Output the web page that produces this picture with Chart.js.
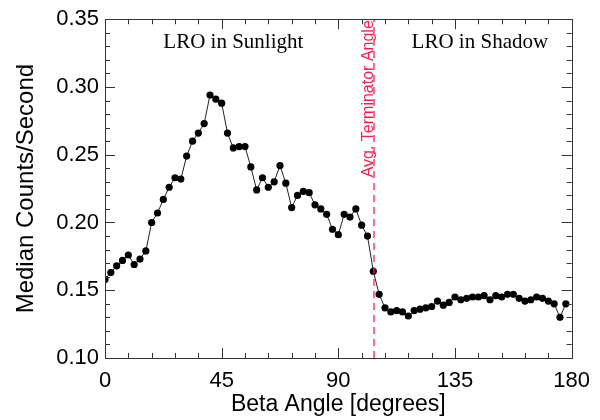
<!DOCTYPE html>
<html>
<head>
<meta charset="utf-8">
<script src="https://cdn.jsdelivr.net/npm/chart.js@4"></script>
<style>
  html, body { margin: 0; padding: 0; background: #fff; }
  #wrap { width: 600px; height: 420px; }
</style>
</head>
<body>
<div id="wrap"><canvas id="betaChart" width="600" height="420"></canvas></div>
<script>
// beta angle bins (degrees) and median count rate
const betaAngle = [
  0, 2.25, 4.5, 6.75, 9, 11.25, 13.5, 15.75, 18, 20.25,
  22.5, 24.75, 27, 29.25, 31.5, 33.75, 36, 38.25, 40.5, 42.75,
  45, 47.25, 49.5, 51.75, 54, 56.25, 58.5, 60.75, 63, 65.25,
  67.5, 69.75, 72, 74.25, 76.5, 78.75, 81, 83.25, 85.5, 87.75,
  90, 92.25, 94.5, 96.75, 99, 101.25, 103.5, 105.75, 108, 110.25,
  112.5, 114.75, 117, 119.25, 121.5, 123.75, 126, 128.25, 130.5, 132.75,
  135, 137.25, 139.5, 141.75, 144, 146.25, 148.5, 150.75, 153, 155.25,
  157.5, 159.75, 162, 164.25, 166.5, 168.75, 171, 173.25, 175.5, 177.75
];
const medianRate = [
  0.158, 0.163, 0.168, 0.172, 0.176, 0.169, 0.173, 0.179, 0.200, 0.207,
  0.217, 0.226, 0.233, 0.232, 0.249, 0.260, 0.266, 0.273, 0.294, 0.291,
  0.288, 0.266, 0.255, 0.256, 0.256, 0.241, 0.224, 0.233, 0.226, 0.230,
  0.242, 0.229, 0.211, 0.220, 0.223, 0.222, 0.213, 0.210, 0.206, 0.195,
  0.191, 0.206, 0.204, 0.210, 0.198, 0.190, 0.164, 0.147, 0.137, 0.134,
  0.135, 0.134, 0.131, 0.135, 0.136, 0.137, 0.138, 0.142, 0.139, 0.141,
  0.145, 0.143, 0.144, 0.145, 0.145, 0.146, 0.143, 0.146, 0.145, 0.147,
  0.147, 0.144, 0.142, 0.143, 0.145, 0.144, 0.142, 0.140, 0.130, 0.140
];

const xTicks = [0, 45, 90, 135, 180];
const yTicks = [0.10, 0.15, 0.20, 0.25, 0.30, 0.35];
const yTickLabels = ['0.10', '0.15', '0.20', '0.25', '0.30', '0.35'];

const terminatorAngle = 103.7;
const regionLabels = ['LRO in Sunlight', 'LRO in Shadow'];
const regionLabelAngle = [49.5, 144.6];
const regionLabelValue = 0.329;

const RED = '#ff1f4f';
const AXIS = '#333';

// IDL-style frame with inward ticks on all four sides + the annotations
const framePlugin = {
  id: 'frame',
  afterDatasetsDraw(chart) {
    const { ctx, chartArea: a, scales: { x, y } } = chart;
    ctx.save();

    // terminator line
    const tx = Math.round(x.getPixelForValue(terminatorAngle));
    ctx.strokeStyle = RED;
    ctx.lineWidth = 1.3;
    ctx.setLineDash([7, 5]);
    ctx.beginPath();
    ctx.moveTo(tx, a.bottom);
    ctx.lineTo(tx, a.top);
    ctx.stroke();
    ctx.setLineDash([]);

    ctx.fillStyle = RED;
    ctx.font = '16px "Liberation Sans", Arial, sans-serif';
    ctx.save();
    ctx.translate(tx - 1, a.top + 1);
    ctx.rotate(-Math.PI / 2);
    ctx.textAlign = 'right';
    ctx.textBaseline = 'alphabetic';
    ctx.fillText('Avg. Terminator Angle', 0, 0);
    ctx.restore();

    // region labels
    ctx.fillStyle = '#000';
    ctx.font = '21px "Liberation Serif", "Times New Roman", serif';
    ctx.textAlign = 'center';
    ctx.textBaseline = 'alphabetic';
    regionLabels.forEach((t, i) => {
      ctx.fillText(t, x.getPixelForValue(regionLabelAngle[i]), y.getPixelForValue(regionLabelValue));
    });

    // frame
    ctx.strokeStyle = AXIS;
    ctx.lineWidth = 1;
    ctx.strokeRect(Math.round(a.left) + 0.5, Math.round(a.top) + 0.5,
      Math.round(a.right - a.left), Math.round(a.bottom - a.top));

    // ticks
    ctx.beginPath();
    for (let v = 0; v <= 180; v += 9) {
      const px = Math.round(x.getPixelForValue(v)) + 0.5;
      const len = v % 45 === 0 ? 10 : 5;
      ctx.moveTo(px, a.bottom); ctx.lineTo(px, a.bottom - len);
      ctx.moveTo(px, a.top); ctx.lineTo(px, a.top + len);
    }
    for (let k = 10; k <= 35; k++) {
      const py = Math.round(y.getPixelForValue(k / 100)) + 0.5;
      const len = k % 5 === 0 ? 10 : 5;
      ctx.moveTo(a.left, py); ctx.lineTo(a.left + len, py);
      ctx.moveTo(a.right, py); ctx.lineTo(a.right - len, py);
    }
    ctx.stroke();
    ctx.restore();
  }
};

const ctx = document.getElementById('betaChart').getContext('2d');
const points = betaAngle.map((b, i) => ({ x: b, y: medianRate[i] }));

new Chart(ctx, {
  type: 'line',
  data: {
    datasets: [{
      data: points,
      borderColor: '#222',
      borderWidth: 1,
      backgroundColor: '#000',
      pointBackgroundColor: '#000',
      pointBorderColor: '#000',
      pointRadius: 3.6,
      pointBorderWidth: 0,
      tension: 0,
      fill: false
    }]
  },
  options: {
    responsive: false,
    animation: false,
    layout: { padding: { top: 14, right: 27, left: 0, bottom: 0 } },
    plugins: {
      legend: { display: false },
      tooltip: { enabled: false }
    },
    scales: {
      x: {
        type: 'linear',
        min: 0, max: 180,
        afterBuildTicks: s => { s.ticks = xTicks.map(v => ({ value: v })); },
        afterFit: s => { s.height = 62; },
        grid: { display: false, drawTicks: false },
        border: { display: false },
        ticks: {
          padding: 10,
          color: '#000',
          font: { family: '"Liberation Sans", Arial, sans-serif', size: 22 },
          maxRotation: 0
        },
        title: {
          display: true,
          text: 'Beta Angle [degrees]',
          color: '#000',
          font: { family: '"Liberation Sans", Arial, sans-serif', size: 23 },
          padding: { top: 0, bottom: 2 }
        }
      },
      y: {
        type: 'linear',
        min: 0.10, max: 0.35,
        afterBuildTicks: s => { s.ticks = yTicks.map(v => ({ value: v })); },
        afterFit: s => { s.width = 105; },
        grid: { display: false, drawTicks: false },
        border: { display: false },
        ticks: {
          padding: 6,
          color: '#000',
          font: { family: '"Liberation Sans", Arial, sans-serif', size: 22 },
          callback: (v, i) => yTickLabels[i]
        },
        title: {
          display: true,
          text: 'Median Counts/Second',
          color: '#000',
          font: { family: '"Liberation Sans", Arial, sans-serif', size: 24, lineHeight: 1 },
          padding: { top: 14, bottom: 0 }
        }
      }
    }
  },
  plugins: [framePlugin]
});
</script>
</body>
</html>
